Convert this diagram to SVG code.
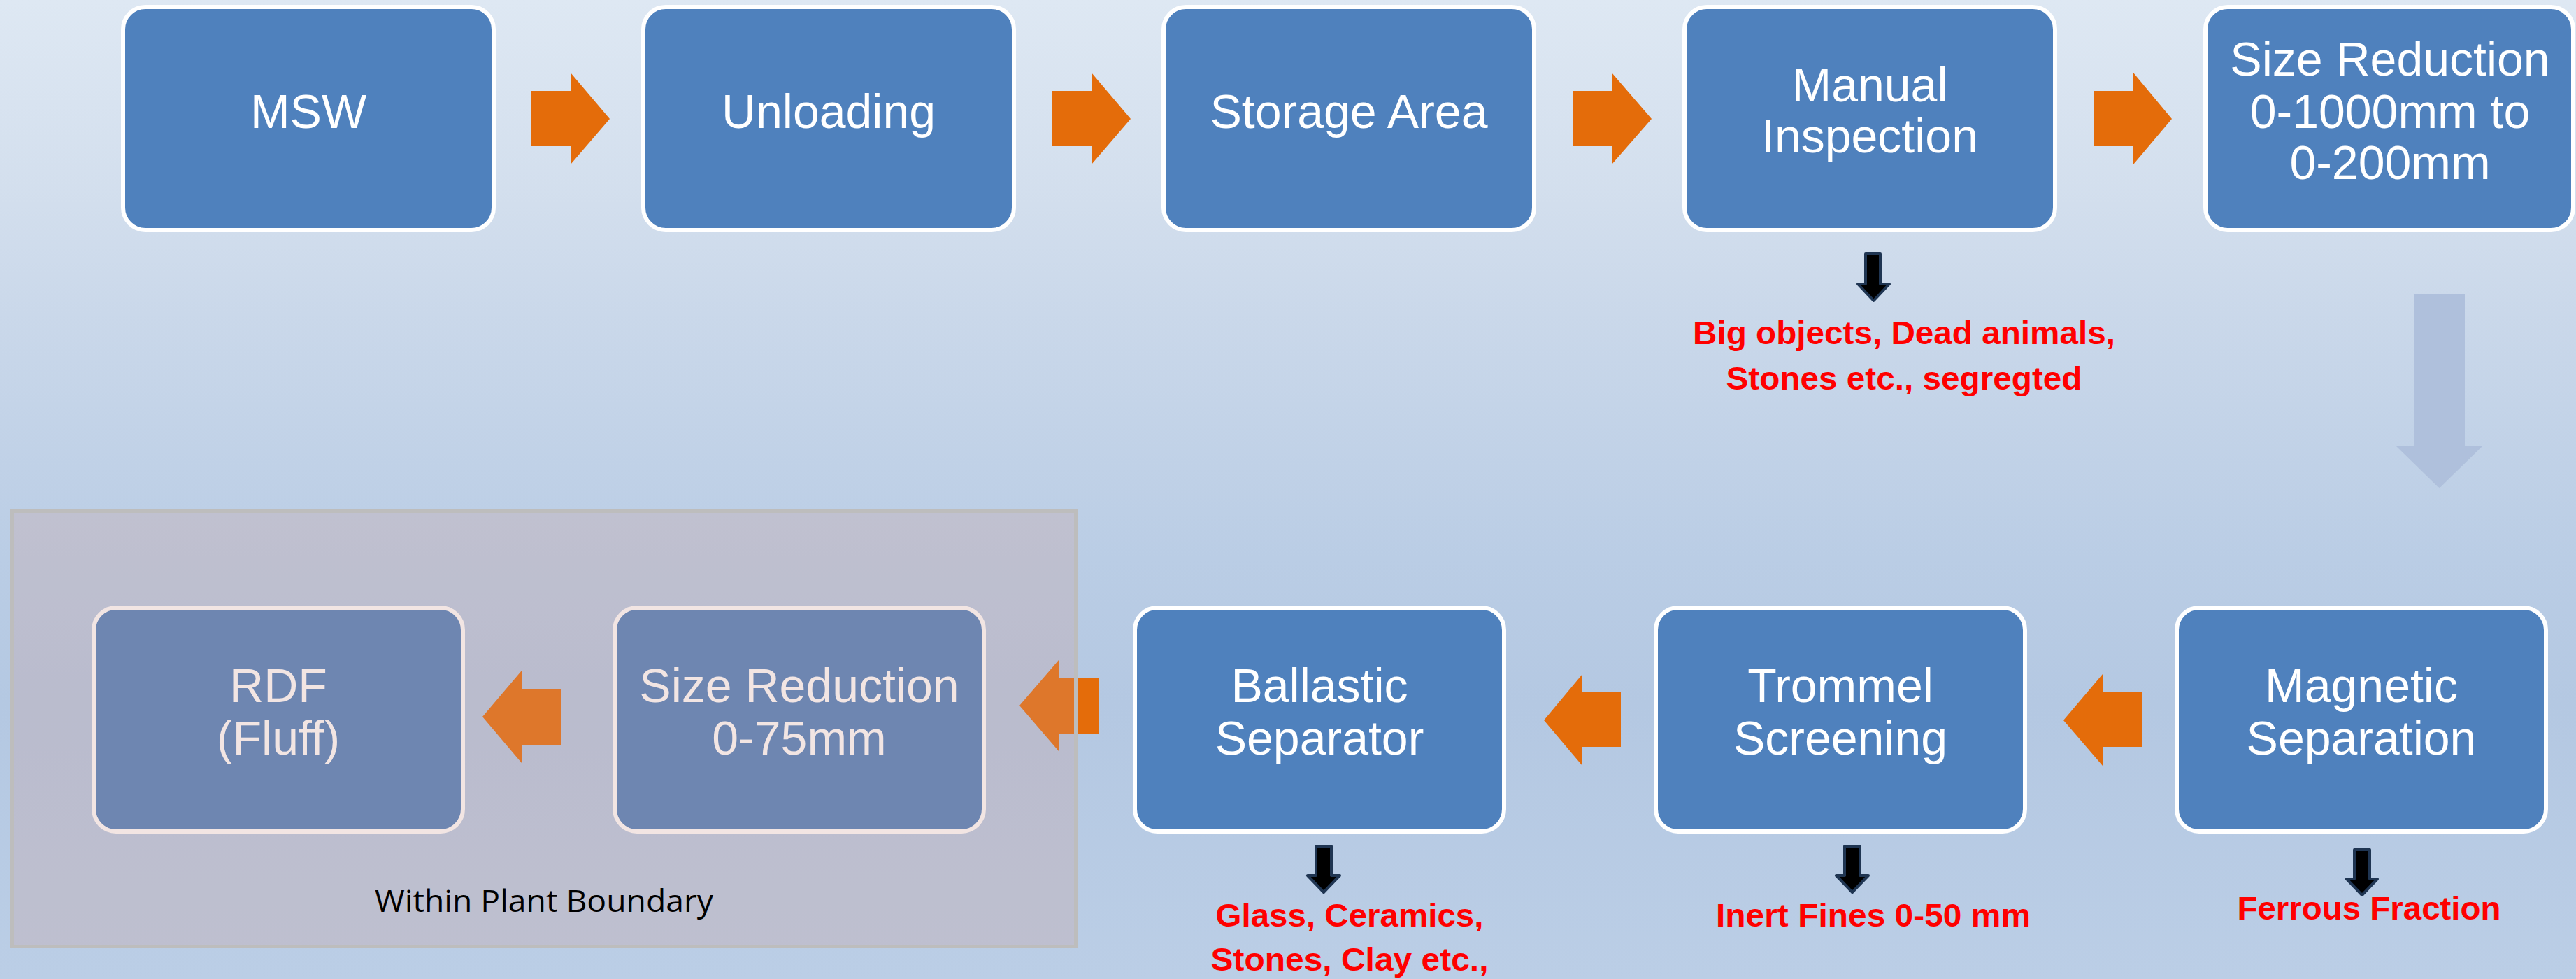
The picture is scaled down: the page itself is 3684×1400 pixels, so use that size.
<svg xmlns="http://www.w3.org/2000/svg" width="3684" height="1400" viewBox="0 0 3684 1400">
<defs>
<linearGradient id="bg" x1="0" y1="0" x2="0" y2="1">
<stop offset="0" stop-color="#DEE8F3"/>
<stop offset="0.21" stop-color="#D2DEED"/>
<stop offset="0.32" stop-color="#CAD8EA"/>
<stop offset="0.57" stop-color="#BACDE5"/>
<stop offset="0.72" stop-color="#B4C8E2"/>
<stop offset="1" stop-color="#BBCEE6"/>
</linearGradient>
<style>
.box{fill:#4F81BD;stroke:#FFFFFF;stroke-width:6}
.lbl{font-family:"Liberation Sans",Arial,sans-serif;font-size:68px;fill:#FFFFFF;text-anchor:middle}
.out{font-family:"Liberation Sans",Arial,sans-serif;font-size:47px;font-weight:bold;fill:#FF0000;text-anchor:middle}
.flow{fill:#E46C0A}
.drop{fill:#000000;stroke:#1F3552;stroke-width:4;stroke-linejoin:round}
.pale{fill:#AFC0DC}
</style>
</defs>
<rect x="0" y="0" width="3684" height="1400" fill="url(#bg)"/>

<g id="connectors">
<polygon class="flow" points="760,130 816,130 816,104 872,170 816,235 816,209 760,209"/>
<polygon class="flow" points="1505,130 1561,130 1561,104 1617,170 1561,235 1561,209 1505,209"/>
<polygon class="flow" points="2249,130 2305,130 2305,104 2362,170 2305,235 2305,209 2249,209"/>
<polygon class="flow" points="2995,130 3051,130 3051,104 3106,170 3051,235 3051,209 2995,209"/>
<polygon class="pale" points="3452,421 3525,421 3525,638 3550,638 3488.5,698 3427,638 3452,638"/>
<polygon class="flow" points="3064,990 3007,990 3007,964 2951,1030 3007,1095 3007,1068 3064,1068"/>
<polygon class="flow" points="2318,990 2263,990 2263,964 2208,1030 2263,1095 2263,1068 2318,1068"/>
<polygon class="flow" points="1571,969 1514,969 1514,944 1458,1009 1514,1074 1514,1049 1571,1049"/>
<polygon class="flow" points="803,986 746,986 746,959 690,1025 746,1091 746,1065 803,1065"/>
<path class="drop" d="M2668,363 H2689 V406 H2702 L2679.5,430 L2657,406 H2668 Z"/>
<path class="drop" d="M1882,1210 H1904 V1252 H1916 L1893,1276 L1870,1252 H1882 Z"/>
<path class="drop" d="M2638,1210 H2660 V1252 H2672 L2649,1276 L2626,1252 H2638 Z"/>
<path class="drop" d="M3367,1215 H3389 V1257 H3400 L3378,1280 L3356,1257 H3367 Z"/>
</g>

<g id="node-msw">
<rect class="box" x="176" y="10" width="530" height="319" rx="32"/>
<text class="lbl" x="441" y="183">MSW</text>
</g>
<g id="node-unloading">
<rect class="box" x="920" y="10" width="530" height="319" rx="32"/>
<text class="lbl" x="1185" y="183">Unloading</text>
</g>
<g id="node-storage">
<rect class="box" x="1664" y="10" width="530" height="319" rx="32"/>
<text class="lbl" x="1929" y="183">Storage Area</text>
</g>
<g id="node-manual">
<rect class="box" x="2409" y="10" width="530" height="319" rx="32"/>
<text class="lbl" x="2674" y="145">Manual</text>
<text class="lbl" x="2674" y="218">Inspection</text>
</g>
<g id="node-size1">
<rect class="box" x="3154" y="10" width="526" height="319" rx="32"/>
<text class="lbl" x="3418" y="108">Size Reduction</text>
<text class="lbl" x="3418" y="183">0-1000mm to</text>
<text class="lbl" x="3418" y="256">0-200mm</text>
</g>

<g id="node-magnetic">
<rect class="box" x="3113" y="869" width="528" height="320" rx="32"/>
<text class="lbl" x="3377" y="1004">Magnetic</text>
<text class="lbl" x="3377" y="1079">Separation</text>
</g>
<g id="node-trommel">
<rect class="box" x="2368" y="869" width="528" height="320" rx="32"/>
<text class="lbl" x="2632" y="1004">Trommel</text>
<text class="lbl" x="2632" y="1079">Screening</text>
</g>
<g id="node-ballastic">
<rect class="box" x="1623" y="869" width="528" height="320" rx="32"/>
<text class="lbl" x="1887" y="1004">Ballastic</text>
<text class="lbl" x="1887" y="1079">Separator</text>
</g>
<g id="node-size2">
<rect class="box" x="879" y="869" width="528" height="320" rx="32"/>
<text class="lbl" x="1143" y="1004">Size Reduction</text>
<text class="lbl" x="1143" y="1079">0-75mm</text>
</g>
<g id="node-rdf">
<rect class="box" x="134" y="869" width="528" height="320" rx="32"/>
<text class="lbl" x="398" y="1004">RDF</text>
<text class="lbl" x="398" y="1079">(Fluff)</text>
</g>

<g id="outputs">
<text class="out" x="2723" y="492" textLength="604" lengthAdjust="spacingAndGlyphs">Big objects, Dead animals,</text>
<text class="out" x="2723" y="557" textLength="509" lengthAdjust="spacingAndGlyphs">Stones etc., segregted</text>
<text class="out" x="1930" y="1325" textLength="383" lengthAdjust="spacingAndGlyphs">Glass, Ceramics,</text>
<text class="out" x="1930" y="1388" textLength="397" lengthAdjust="spacingAndGlyphs">Stones, Clay etc.,</text>
<text class="out" x="2679" y="1325" textLength="450" lengthAdjust="spacingAndGlyphs">Inert Fines 0-50 mm</text>
<text class="out" x="3388" y="1315" textLength="377" lengthAdjust="spacingAndGlyphs">Ferrous Fraction</text>
</g>

<g id="plant-boundary">
<rect x="17.5" y="730.5" width="1521" height="623" fill="#CB9991" fill-opacity="0.25" stroke="#BDBDBD" stroke-width="5"/>
<text x="778" y="1304" font-family="'Open Sans','Noto Sans',sans-serif" font-size="44" fill="#000000" text-anchor="middle" textLength="484" lengthAdjust="spacingAndGlyphs">Within Plant Boundary</text>
</g>
</svg>
